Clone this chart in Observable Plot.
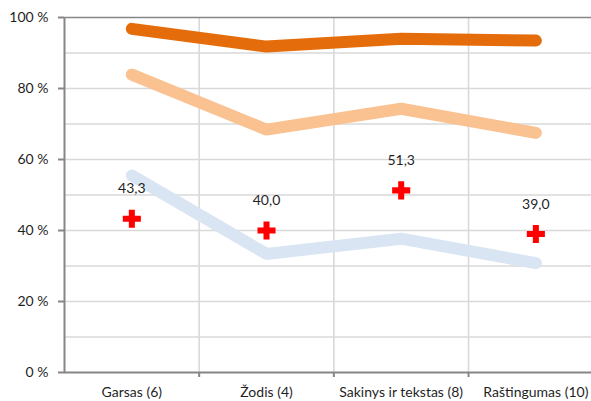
<!DOCTYPE html>
<html>
<head>
<meta charset="utf-8">
<script src="https://cdn.jsdelivr.net/npm/d3@7"></script>
<script src="https://cdn.jsdelivr.net/npm/@observablehq/plot@0.6"></script>
<style>
  html, body { margin: 0; padding: 0; background: #fff; }
  #chart { width: 591px; height: 401px; overflow: hidden; }
</style>
</head>
<body>
<div id="chart"></div>
<script>
const categories = ["Garsas (6)", "Žodis (4)", "Sakinys ir tekstas (8)", "Raštingumas (10)"];
const highSeries = [96.8, 91.8, 94.0, 93.5];
const midSeries = [83.9, 68.4, 74.3, 67.5];
const lowSeries = [55.5, 33.4, 37.7, 30.8];
const averages = [43.3, 40.0, 51.3, 39.0];
const yTicks = [0, 20, 40, 60, 80, 100];

const rows = categories.map((c, i) => ({
  i, c, high: highSeries[i], mid: midSeries[i], low: lowSeries[i], avg: averages[i]
}));
const boundaries = categories.map((c, i) => i + 0.5);

const grid = "#d9d9d9";
const axisColor = "#868686";
const textColor = "#1f1f1f";
const fs = 14;

const plot = Plot.plot({
  width: 591,
  height: 401,
  marginTop: 17,
  marginBottom: 29,
  marginLeft: 64,
  marginRight: 0,
  style: { fontFamily: "Lato, 'Open Sans', sans-serif", fontSize: fs + "px", background: "#fff", overflow: "hidden" },
  x: { type: "linear", domain: [-0.5, categories.length - 0.5], range: [64, 602.7], label: null },
  y: { domain: [0, 100], range: [372, 17], label: null },
  marks: [
    Plot.ruleY(d3.range(10, 100, 10), { stroke: grid, strokeWidth: 1.3 }),
    Plot.ruleX(boundaries, { stroke: grid, strokeWidth: 1.6 }),
    Plot.ruleY([100], { stroke: axisColor, strokeWidth: 1.3 }),
    Plot.line(rows, { x: "i", y: "low", stroke: "#DAE5F3", strokeWidth: 12, strokeLinecap: "round", strokeLinejoin: "miter" }),
    Plot.line(rows, { x: "i", y: "mid", stroke: "#FAC191", strokeWidth: 12, strokeLinecap: "round", strokeLinejoin: "miter" }),
    Plot.line(rows, { x: "i", y: "high", stroke: "#E46C0A", strokeWidth: 12, strokeLinecap: "round", strokeLinejoin: "miter" }),
    Plot.dot(rows, { x: "i", y: "avg", symbol: "cross", r: 7.6, fill: "#FF0000", stroke: null }),
    Plot.text(rows, { x: "i", y: "avg", text: d => d.avg.toFixed(1).replace(".", ","), dy: -30, fill: textColor, fontSize: fs }),
    Plot.ruleX([-0.5], { stroke: axisColor, strokeWidth: 2 }),
    Plot.ruleY([0], { stroke: axisColor, strokeWidth: 2 }),
    Plot.axisX({ ticks: boundaries, tickFormat: () => "", tickSize: 5, stroke: axisColor, strokeWidth: 2, label: null }),
    Plot.axisY({ ticks: yTicks, tickFormat: d => d + " %", tickSize: 6, tickPadding: 10, stroke: axisColor, strokeWidth: 2, fill: textColor, fontSize: fs, label: null }),
    Plot.axisX({ ticks: d3.range(categories.length), tickFormat: i => categories[i], tickSize: 0, tickPadding: 15, fill: textColor, fontSize: fs, label: null })
  ]
});
document.getElementById("chart").appendChild(plot);
</script>
</body>
</html>
